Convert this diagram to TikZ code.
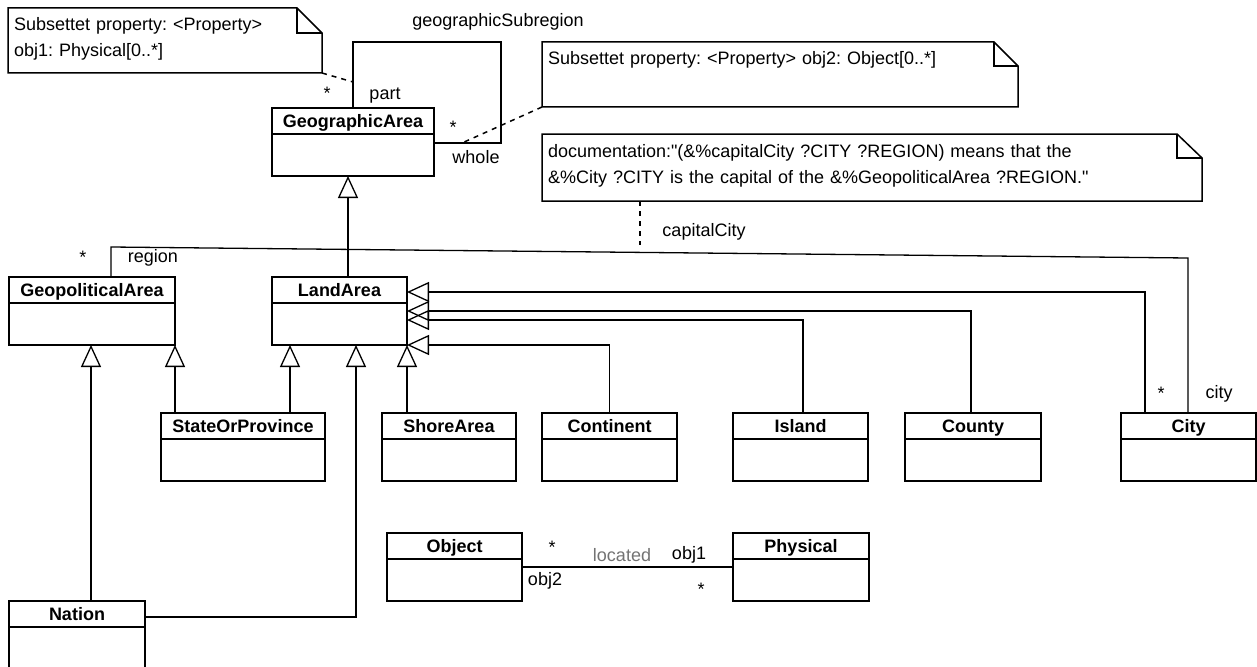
\documentclass[tikz,border=0pt]{standalone}
\usepackage{fontspec}
\setmainfont{Liberation Sans}[Ligatures=TeXOff]
\frenchspacing
\usetikzlibrary{positioning, arrows.meta}

\tikzset{
        classhead/.style={draw, line width=1.8pt, anchor=north west, minimum width=#1, minimum height=26pt,
                inner sep=0pt, outer sep=0pt, text height=13pt, text depth=0pt, font=\fontsize{18}{26}\selectfont\bfseries},
        classbody/.style={draw, line width=1.8pt, minimum width=#1, minimum height=42pt, inner sep=0pt, outer sep=0pt},
        notebox/.style={anchor=north west, text width=#1, inner xsep=6pt, inner ysep=0pt, outer sep=0pt, align=left,
                text height=23pt, text depth=42pt},
        notefrm/.style={line width=1.5pt},
        gen/.style={line width=1.3pt, -{Triangle[open, length=22pt, width=20pt]}},
        assoc/.style={line width=1.3pt},
        notelink/.style={line width=1.5pt, dash pattern=on 5pt off 5pt},
        lbl/.style={inner sep=0pt}
}

\begin{document}
\begin{tikzpicture}[x=1pt, y=-1pt, font=\fontsize{18}{26}\selectfont]
        \useasboundingbox (0,0) rectangle (1257,666);

        \node[classhead=162pt] (geo) at (272,108) {GeographicArea};
        \node[classbody=162pt] (geob) [below=0pt of geo] {};
        \node[classhead=166pt] (geopol) at (9,277) {GeopoliticalArea};
        \node[classbody=166pt] (geopolb) [below=0pt of geopol] {};
        \node[classhead=135pt] (land) at (272,277) {LandArea};
        \node[classbody=135pt] (landb) [below=0pt of land] {};
        \node[classhead=164pt] (state) at (161,413) {StateOrProvince};
        \node[classbody=164pt] (stateb) [below=0pt of state] {};
        \node[classhead=134pt] (shore) at (382,413) {ShoreArea};
        \node[classbody=134pt] (shoreb) [below=0pt of shore] {};
        \node[classhead=135pt] (cont) at (542,413) {Continent};
        \node[classbody=135pt] (contb) [below=0pt of cont] {};
        \node[classhead=135pt] (island) at (733,413) {Island};
        \node[classbody=135pt] (islandb) [below=0pt of island] {};
        \node[classhead=136pt] (county) at (905,413) {County};
        \node[classbody=136pt] (countyb) [below=0pt of county] {};
        \node[classhead=135pt] (city) at (1121,413) {City};
        \node[classbody=135pt] (cityb) [below=0pt of city] {};
        \node[classhead=136pt] (nation) at (9,601) {Nation};
        \node[classbody=136pt] (nationb) [below=0pt of nation] {};
        \node[classhead=135pt] (obj) at (387,533) {Object};
        \node[classbody=135pt] (objb) [below=0pt of obj] {};
        \node[classhead=136pt] (phys) at (733,533) {Physical};
        \node[classbody=136pt] (physb) [below=0pt of phys] {};

        \node[notebox=302pt] (note1) at (8,8) {Subsettet property: <Property>\\obj1: Physical[0..*]};
        \node[notebox=464pt] (note2) at (542,42) {Subsettet property: <Property> obj2: Object[0..*]};
        \node[notebox=648pt, text depth=44pt] (note3) at (542,134)
                {documentation:"(\&\%capitalCity ?CITY ?REGION) means that the\\\&\%City ?CITY is the capital of the \&\%GeopoliticalArea ?REGION."};
        \draw[notefrm] (note1.south west) -- (note1.north west) -- ([xshift=-25pt]note1.north east)
                -- ([yshift=-25pt]note1.north east) -- (note1.south east) -- cycle;
        \draw[notefrm] ([xshift=-25pt]note1.north east) |- ([yshift=-25pt]note1.north east);
        \draw[notefrm] (note2.south west) -- (note2.north west) -- ([xshift=-24pt]note2.north east)
                -- ([yshift=-24pt]note2.north east) -- (note2.south east) -- cycle;
        \draw[notefrm] ([xshift=-24pt]note2.north east) |- ([yshift=-24pt]note2.north east);
        \draw[notefrm] (note3.south west) -- (note3.north west) -- ([xshift=-25pt]note3.north east)
                -- ([yshift=-24pt]note3.north east) -- (note3.south east) -- cycle;
        \draw[notefrm] ([xshift=-25pt]note3.north east) |- ([yshift=-24pt]note3.north east);

        \draw[gen] (land.north -| 348,0) -- (348,0 |- geob.south);
        \draw[gen] (nation.north -| 91,0) -- (91,0 |- geopolb.south);
        \draw[gen] (state.north -| geopolb.south east) -- (geopolb.south east);
        \draw[gen] (state.north -| 290,0) -- (290,0 |- landb.south);
        \draw[gen] (nation.east |- 0,617) -| (356,0 |- landb.south);
        \draw[gen] (shore.north -| landb.south east) -- (landb.south east);
        \draw[gen] (cont.north) |- (landb.south east);
        \draw[gen] (island.north -| 803,0) |- (land.east |- 0,320);
        \draw[gen] (county.north -| 971,0) |- (land.east |- 0,311);
        \draw[gen] (city.north -| 1145,0) |- (land.east |- 0,292);

        \draw[assoc] (geo.north) |- (501,42) |- (geob.east |- 0,143);
        \draw[assoc] (geopol.north -| 111,0) -- (111,247) -- (1188,258) -- (city.north -| 1188,0);
        \draw[assoc] (objb.east |- 0,567) -- (physb.west |- 0,567);

        \draw[notelink] (note1.south east) -- (geo.north |- 0,82);
        \draw[notelink] (note2.south west) -- (462,143);
        \draw[notelink] (note3.south -| 640,0) -- (640,245);

        \node[lbl] (subreglbl) at (498,22) {geographicSubregion};
        \node[lbl] (partlbl) at (385,96) {part};
        \node[lbl] (partmul) at (327,93) {*};
        \node[lbl] (wholemul) at (453,127) {*};
        \node[lbl] (wholelbl) at (476,157) {whole};
        \node[lbl] (regionmul) at (83,257) {*};
        \node[lbl] (regionlbl) at (153,258) {region};
        \node[lbl] (capitallbl) at (704,232) {capitalCity};
        \node[lbl] (citymul) at (1161,393) {*};
        \node[lbl] (citylbl) at (1219,394) {city};
        \node[lbl] (objmul) at (552,547) {*};
        \node[lbl, text=black!55] (locatedlbl) at (622,555) {located};
        \node[lbl] (obj1lbl) at (689,555) {obj1};
        \node[lbl] (physmul) at (701,589) {*};
        \node[lbl] (obj2lbl) at (545,581) {obj2};
\end{tikzpicture}
\end{document}
